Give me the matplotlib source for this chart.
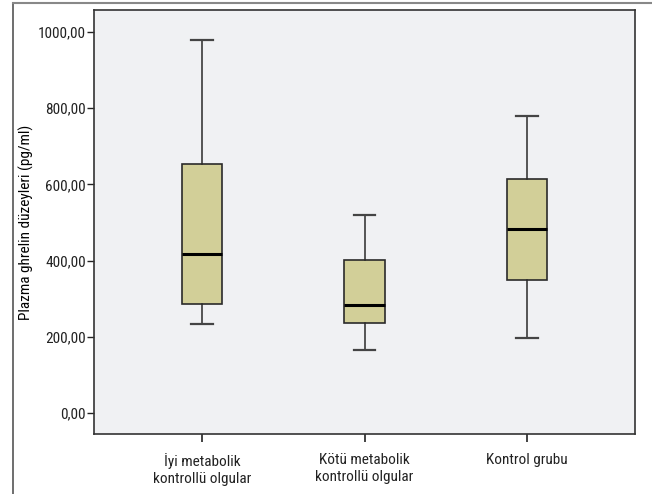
import matplotlib
matplotlib.use('Agg')
import matplotlib.pyplot as plt
from matplotlib.lines import Line2D
from matplotlib import font_manager

groups = ['İyi metabolik\nkontrollü olgular', 'Kötü metabolik\nkontrollü olgular', 'Kontrol grubu']
whislo = [234, 166, 198]
q1 = [287, 236, 350]
med = [418, 283, 483]
q3 = [654, 403, 615]
whishi = [979, 519, 781]
yticks = [0, 200, 400, 600, 800, 1000]

# look for a narrow font, fall back to Liberation Sans
fam = 'Liberation Sans'
stretch = 'normal'
for f in font_manager.fontManager.ttflist:
    if f.name in ('Liberation Sans Narrow', 'Roboto Condensed', 'Open Sans Condensed'):
        fam = f.name
        break
    if f.name == 'DejaVu Sans' and 'Condensed' in f.fname and 'Bold' not in f.fname and 'Oblique' not in f.fname:
        fam = 'DejaVu Sans'
        stretch = 'condensed'
plt.rcParams['font.family'] = [fam, 'DejaVu Sans']
plt.rcParams['font.stretch'] = stretch
plt.rcParams['text.color'] = '#222222'
plt.rcParams['xtick.color'] = '#222222'
plt.rcParams['ytick.color'] = '#222222'

fig = plt.figure(figsize=(6.52, 4.94), dpi=100)
ax = fig.add_axes([94 / 652, 60 / 494, 541 / 652, 424 / 494])
ax.set_facecolor('#f0f1f3')

stats = []
for i in range(len(groups)):
    stats.append({'whislo': whislo[i], 'q1': q1[i], 'med': med[i],
                  'q3': q3[i], 'whishi': whishi[i], 'fliers': []})

ax.bxp(stats, positions=[1, 2, 3], widths=0.25, capwidths=0.13,
       patch_artist=True, showfliers=False,
       boxprops=dict(facecolor='#d2cf98', edgecolor='#2a2a2a', linewidth=1.2),
       medianprops=dict(color='black', linewidth=2.2),
       whiskerprops=dict(color='#2a2a2a', linewidth=1.1),
       capprops=dict(color='#444444', linewidth=1.6))

ax.set_xlim(0.335, 3.665)
ax.set_ylim(-55, 1058)
ax.set_yticks(yticks)
ax.set_yticklabels(['%d,00' % v for v in yticks], fontsize=11)
ax.set_xticks([1, 2, 3])
ax.set_xticklabels(groups, fontsize=11)
ax.tick_params(axis='y', length=5, width=1, pad=1)
ax.tick_params(axis='x', length=6, width=1.2, pad=8)
for s in ax.spines.values():
    s.set_color('#333333')
    s.set_linewidth(1.2)

ax.set_ylabel('Plazma ghrelin düzeyleri (pg/ml)', fontsize=11)
ax.yaxis.set_label_coords(-0.11, 0.5)

# outer frame (left and top edges visible)
fig.add_artist(Line2D([13 / 652, 13 / 652], [0, 1 - 3 / 494], color='#555555', linewidth=1.2))
fig.add_artist(Line2D([13 / 652, 1], [1 - 3 / 494, 1 - 3 / 494], color='#888888', linewidth=1.5))

fig.savefig('out.png', dpi=100)
